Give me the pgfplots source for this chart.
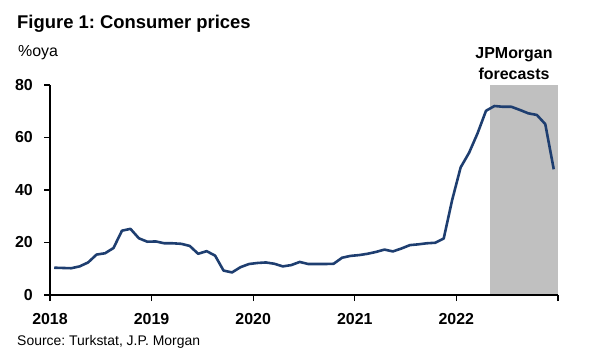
\documentclass[border=0pt]{standalone}
\usepackage{fontspec}
\setmainfont{Liberation Sans}
\usepackage{pgfplots}
\usepackage{pgfplotstable}
\pgfplotsset{compat=1.18}
\frenchspacing
\definecolor{cpiblue}{RGB}{30,62,112}
\definecolor{fcgrey}{RGB}{192,192,192}
\pgfplotstableread{
v
10.4
10.3
10.2
10.9
12.4
15.4
15.9
17.9
24.5
25.2
21.6
20.3
20.4
19.7
19.7
19.5
18.7
15.7
16.7
15.0
9.3
8.6
10.6
11.8
12.2
12.4
11.9
10.9
11.4
12.6
11.8
11.8
11.8
11.9
14.2
14.9
15.2
15.7
16.4
17.3
16.6
17.7
19.0
19.3
19.7
19.9
21.5
36.2
48.6
54.2
61.6
70.2
72.0
71.7
71.7
70.5
69.2
68.6
65.1
47.9
}\cpi
\begin{document}
\begin{tikzpicture}
\path[use as bounding box] (0,0) rectangle (600bp,358bp);
\begin{axis}[
  at={(50bp,63bp)}, anchor=south west,
  scale only axis, width=508bp, height=210bp,
  xmin=2018, xmax=2023, ymin=0, ymax=80,
  axis lines=left, axis line style={-, line width=1.6pt},
  axis on top,
  xtick={2018,...,2023},
  xticklabels={2018,2019,2020,2021,2022,},
  ytick={0,20,...,80},
  tick align=outside, major tick length=6bp,
  tick style={black, line width=1.3pt},
  /pgf/number format/assume math mode=true,
  x tick label style={font=\fontsize{16}{17}\selectfont\bfseries, inner sep=0pt, anchor=north, yshift=-12bp},
  y tick label style={font=\fontsize{16}{17}\selectfont\bfseries, inner sep=0pt, anchor=east, xshift=-11bp},
  clip=false,
]
\fill[fcgrey] (axis cs:2022.333,0) rectangle (axis cs:2023,80);
\addplot[cpiblue, line width=2.6pt, line join=round, mark=none]
  table[x expr={2018+(\coordindex+0.5)/12}, y=v] {\cpi};
\end{axis}
\node[anchor=base west, inner sep=0pt, font=\fontsize{18.5}{20}\selectfont\bfseries] at (17bp,329bp) {Figure 1: Consumer prices};
\node[anchor=base west, inner sep=0pt, font=\fontsize{16}{17}\selectfont] at (18bp,301bp) {\%oya};
\node[anchor=base west, inner sep=0pt, font=\fontsize{14}{15}\selectfont] at (17bp,13bp) {Source: Turkstat, J.P. Morgan};
\node[anchor=base, inner sep=0pt, font=\fontsize{16}{17}\selectfont\bfseries] at (514bp,299bp) {JPMorgan};
\node[anchor=base, inner sep=0pt, font=\fontsize{16}{17}\selectfont\bfseries] at (514bp,278bp) {forecasts};
\end{tikzpicture}
\end{document}
